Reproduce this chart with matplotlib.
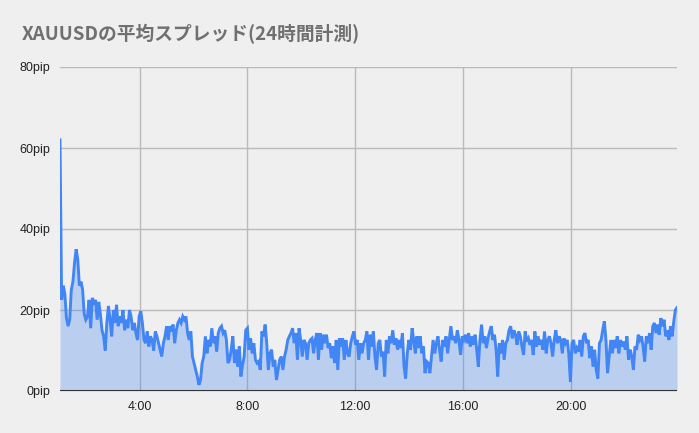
import pandas as pd
import matplotlib
matplotlib.use("Agg")
import matplotlib.pyplot as plt
import matplotlib.dates as mdates
from matplotlib.ticker import FuncFormatter

# ======================== DATA ========================
title = "XAUUSDの平均スプレッド(24時間計測)"

# average spread in pip, 1:03 -> 23:56, split in chunks of roughly 4.5 hours
spread_0103_0540 = [62, 22.5, 26, 24, 18, 16, 17.6, 25, 27, 31.6, 35, 32.5, 26, 27, 25, 19,
                    17.6, 18.4, 22.5, 15.5, 23, 21.3, 22.5, 17.6, 22, 19, 15, 13.5, 10, 16.8,
                    21, 17.6, 13.5, 20, 16.8, 21.3, 16, 18.4, 16.8, 20, 15, 17.6, 15.5, 20,
                    18.4, 15, 16.8, 14.3, 12.6, 18.4, 19.7, 16.8, 12.6, 11.8, 14.7, 11, 13.5,
                    12.6, 10, 14.7, 13.5, 11.8, 10, 8.5, 11.8, 13.5, 16, 12.6, 16, 14.7, 16.4,
                    11.8, 15, 16.8, 17.6, 16.8, 18.4]
spread_0540_1015 = [17.6, 18.4, 14.3, 12.6, 14.7, 8.5, 6.9, 5.2, 3.6, 1.5, 2.7, 6.9, 8.5, 13.5,
                    9.3, 12.6, 11, 15.5, 11.8, 13.5, 9.7, 14.3, 15.5, 16, 14.3, 15, 12.6, 6.9,
                    7.7, 10.2, 13.5, 6.9, 10.2, 6, 11, 3.6, 6.4, 8.5, 15, 15.5, 10.2, 13, 9.3,
                    11.8, 7.7, 6.9, 7.3, 5.2, 14.7, 13.5, 16.4, 11.8, 5.2, 9.3, 10.2, 6, 7.7,
                    2.7, 5.2, 7.7, 8.5, 5.2, 8.5, 10.2, 12.6, 13.5, 14.3, 15.5, 11.8, 14.3, 7.7,
                    15.5, 12.6, 8.5, 12.6, 11.8]
spread_1015_1450 = [7.7, 11.8, 12.6, 13, 9.3, 12.6, 14.3, 7.7, 14.3, 10.2, 13.9, 11.8, 13.9,
                    10.6, 11.8, 8.1, 11, 6.9, 12.6, 5.2, 13, 11, 13, 7.7, 12.6, 9.3, 8.5, 11.8,
                    13.5, 14.7, 11.4, 12.6, 7.7, 11.8, 9.3, 11.8, 12.6, 14.7, 7.7, 13.9, 11,
                    14.7, 8.5, 5.2, 11.8, 12.6, 8.5, 9.7, 3.6, 12.6, 9.3, 13.5, 11.8, 15, 11.4,
                    13, 10.2, 12.6, 10.6, 14.3, 6, 3.1, 9.3, 12.6, 10.2, 15.5, 12.6, 9.3, 13.5,
                    10.6, 13.5, 9.3, 11, 4.4, 7.3, 6.9]
spread_1450_1925 = [4.4, 8.5, 12.6, 9.3, 11.8, 13.5, 10.2, 7.3, 12.6, 11, 13.5, 9.3, 12.6, 16,
                    12.6, 13.5, 11.8, 15, 12.6, 8.9, 13.5, 12.6, 13.9, 11.8, 14.3, 11, 13.5,
                    11.4, 13.9, 10.2, 6, 12.6, 16.4, 11.8, 13.5, 10.6, 13, 14.7, 16, 12.6, 13.9,
                    10.2, 3.6, 11.8, 9.3, 12.6, 7.7, 11.8, 12.6, 15, 16, 13, 15, 13.9, 11.4,
                    14.7, 13.5, 11, 8.9, 14.7, 12.2, 13, 11.4, 12.6, 8.9, 14.7, 11, 13.5, 11.4,
                    12.6, 10.2, 14.7, 9.3, 12.6, 13.5, 11.8]
spread_1925_2356 = [8.5, 12.6, 15, 11.8, 13.5, 12.6, 9.3, 13, 11.8, 12.6, 9.3, 2.3, 11.8, 12.6,
                    9.3, 10.6, 9.7, 12.6, 8.5, 13.5, 14.3, 11.8, 12.6, 8.1, 11, 6, 10.2, 5.2,
                    3.1, 11.8, 12.6, 15, 17.2, 12.6, 4.4, 8.5, 12.6, 9.3, 12.6, 10.6, 13.5, 9.3,
                    12.6, 11, 12.2, 10.2, 13.5, 7.7, 10.2, 8.5, 5.2, 11, 10.2, 13.9, 12.6, 13.5,
                    11, 7.3, 13.5, 11.8, 14.3, 10.2, 16, 16.8, 14.3, 16.4, 13.9, 18, 16, 17.6,
                    13.5, 15, 12.6, 16, 13.5, 17.2, 20, 20.6]

spread = (spread_0103_0540 + spread_0540_1015 + spread_1015_1450
          + spread_1450_1925 + spread_1925_2356)
times = pd.date_range("2021-01-01 01:03", "2021-01-01 23:56", periods=len(spread))

y_ticks = [0, 20, 40, 60, 80]
x_tick_hours = [4, 8, 12, 16, 20]

# ======================== PLOT ========================
bg = "#efefef"
blue = "#4285f4"

fig = plt.figure(figsize=(6.99, 4.33), dpi=100, facecolor=bg)
ax = fig.add_axes([60 / 699, 42 / 433, 617 / 699, 324 / 433], facecolor=bg)

ax.fill_between(times, spread, 0, color=blue, alpha=0.3, linewidth=0)
ax.plot(times, spread, color=blue, linewidth=2.1, solid_joinstyle="miter")

ax.set_xlim(times[0], times[-1])
ax.set_ylim(0, 80)

for s in ax.spines.values():
    s.set_visible(False)
ax.axhline(0, color="#333333", linewidth=1.5, zorder=5)

ax.set_yticks(y_ticks)
ax.yaxis.set_major_formatter(FuncFormatter(lambda v, p: f"{int(v)}pip"))
ax.xaxis.set_major_locator(mdates.HourLocator(byhour=x_tick_hours))
ax.xaxis.set_major_formatter(FuncFormatter(
    lambda v, p: f"{mdates.num2date(v).hour}:{mdates.num2date(v).minute:02d}"))

ax.grid(True, color="#bababa", linewidth=1)
ax.set_axisbelow(True)
ax.tick_params(length=0, labelsize=9, colors="#222222", pad=7)
for lbl in ax.get_xticklabels() + ax.get_yticklabels():
    lbl.set_family("Liberation Sans")

fig.text(22 / 699, 1 - 34 / 433, title, fontsize=13.5, fontweight="bold",
         color="#707070", va="center", ha="left",
         family=["Noto Sans CJK JP", "DejaVu Sans"])

fig.savefig("out.png", dpi=100, facecolor=bg)
